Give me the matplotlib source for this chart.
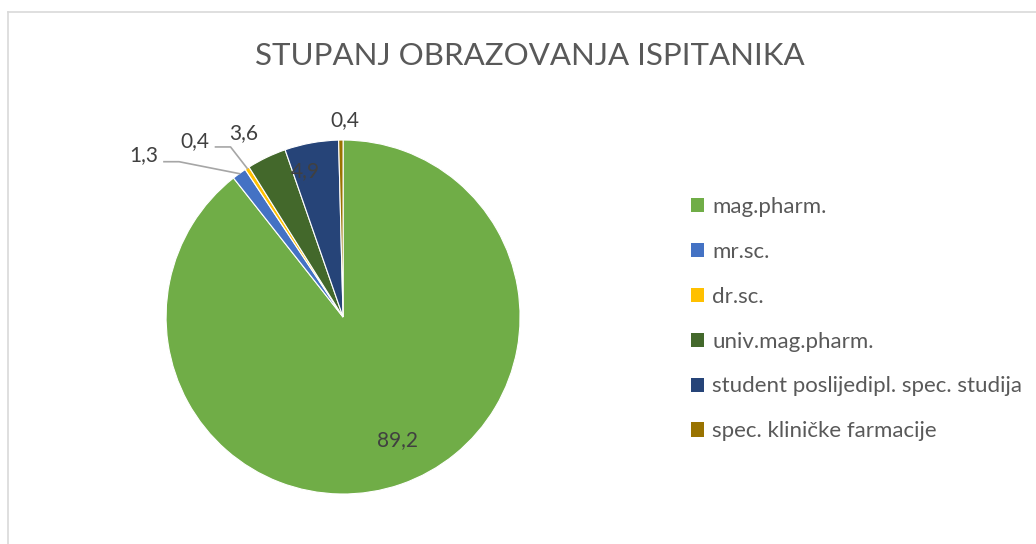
import matplotlib.pyplot as plt
import numpy as np
from matplotlib.lines import Line2D
from matplotlib.patches import Patch

plt.rcParams['font.family'] = ['Lato', 'DejaVu Sans']

categories = ['mag.pharm.', 'mr.sc.', 'dr.sc.', 'univ.mag.pharm.',
              'student poslijedipl. spec. studija', 'spec. kliničke farmacije']
values = [89.2, 1.3, 0.4, 3.6, 4.9, 0.4]
value_labels = ['89,2', '1,3', '0,4', '3,6', '4,9', '0,4']
colors = ['#70AD47', '#4472C4', '#FFC000', '#43682B', '#264478', '#997300']

# label placement (radius in pie radii, angle in degrees)
label_pos = [(0.76, -66), (1.45, 141), (1.30, 130), (1.18, 118.5), (0.85, 104.7), (1.11, 89.4)]
leader = [False, True, True, False, False, False]

fig = plt.figure(figsize=(10.36, 5.44), dpi=100)
ax = fig.add_axes([0.1603, 0.0919, 0.3417, 0.6507])

wedges, _ = ax.pie(values, colors=colors, startangle=90, counterclock=False,
                   radius=1, wedgeprops=dict(edgecolor='white', linewidth=0.8))
ax.set_xlim(-1, 1)
ax.set_ylim(-1, 1)
ax.set_aspect('equal')

for w, txt, (r, ang), has_line in zip(wedges, value_labels, label_pos, leader):
    lx, ly = r * np.cos(np.radians(ang)), r * np.sin(np.radians(ang))
    ax.text(lx, ly, txt, ha='center', va='center', fontsize=15, color='#404040',
            clip_on=False)
    if has_line:
        mid = np.radians((w.theta1 + w.theta2) / 2)
        ex, ey = np.cos(mid), np.sin(mid)
        sx, sy = lx + 0.115, ly - 0.035
        ax.plot([sx, sx + 0.085, ex], [sy, sy, ey], color='#A6A6A6', lw=1.2,
                clip_on=False)

fig.text(0.511, 0.897, 'STUPANJ OBRAZOVANJA ISPITANIKA', ha='center', va='center',
         fontsize=22.5, color='#595959')

handles = [Patch(facecolor=c, edgecolor='none') for c in colors]
fig.legend(handles, categories, loc='upper left', bbox_to_anchor=(0.667, 0.638),
           frameon=False, fontsize=16, labelcolor='#595959',
           handlelength=0.6, handleheight=0.6, handletextpad=0.35,
           labelspacing=1.12, borderpad=0, borderaxespad=0)

# chart area border (partly outside the image)
fig.add_artist(Line2D([8 / 1036, 8 / 1036], [0, 1 - 12 / 544], color='#D9D9D9', lw=1.2))
fig.add_artist(Line2D([8 / 1036, 1], [1 - 12 / 544, 1 - 12 / 544], color='#D9D9D9', lw=1.2))

fig.savefig('out.png', dpi=100)
